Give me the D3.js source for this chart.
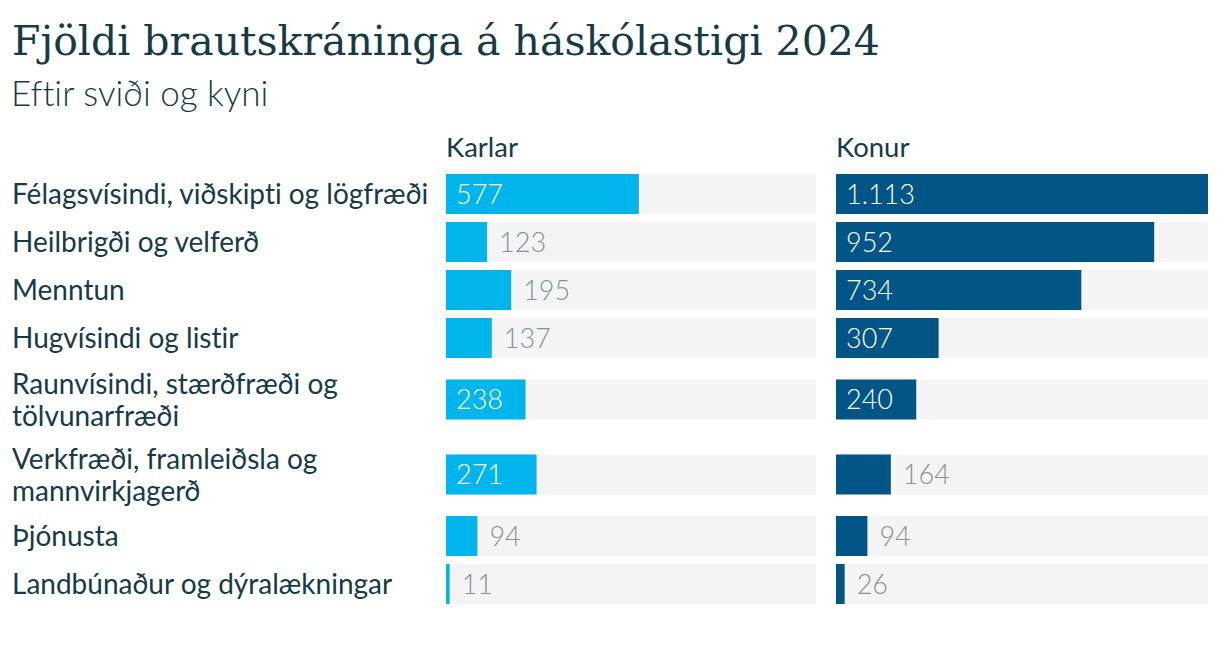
<!DOCTYPE html>
<html>
<head>
<meta charset="utf-8">
<script src="https://cdn.jsdelivr.net/npm/d3@7"></script>
<style>
  body { margin: 0; background: #fff; }
  text { font-family: Lato, sans-serif; font-variant-ligatures: none; }
</style>
</head>
<body>
<div class="chart"></div>
<script>
// Data
var categories = [
    "Félagsvísindi, viðskipti og lögfræði",
    "Heilbrigði og velferð",
    "Menntun",
    "Hugvísindi og listir",
    "Raunvísindi, stærðfræði og tölvunarfræði",
    "Verkfræði, framleiðsla og mannvirkjagerð",
    "Þjónusta",
    "Landbúnaður og dýralækningar"
];
var seriesNames = ["Karlar", "Konur"];
var karlar = [577, 123, 195, 137, 238, 271, 94, 11];
var konur = [1113, 952, 734, 307, 240, 164, 94, 26];

var svgWidth = 1220;
var svgHeight = 656;

var textColor = "#173b44";
var colors = ["#00b4ec", "#005587"];

var svg = d3.select(".chart")
    .append("svg")
    .attr("width", svgWidth)
    .attr("height", svgHeight);

// Title and subtitle
svg.append("text")
    .attr("x", 12)
    .attr("y", 55)
    .style("font-family", "'DejaVu Serif', serif")
    .style("font-size", "41px")
    .attr("fill", textColor)
    .text("Fjöldi brautskráninga á háskólastigi 2024");

svg.append("text")
    .attr("x", 11)
    .attr("y", 106)
    .style("font-size", "35px")
    .style("font-weight", 300)
    .attr("fill", textColor)
    .text("Eftir sviði og kyni");

// Panel layout
var panelX = [446, 836];
var trackWidth = [370, 372];
var panelWidth = 372;
var labelWidth = 426;
var barHeight = 40;
var lineHeight = 32;
var topY = 170;
var fontSize = "28px";

var x = d3.scaleLinear()
    .domain([0, d3.max(konur.concat(karlar))])
    .range([0, panelWidth]);

// Wrap category labels into lines, measured with a hidden text
var measure = svg.append("text")
    .style("font-size", fontSize);

function wrap(str) {
    var words = str.split(" ");
    var lines = [];
    var line = [];
    words.forEach(function(w) {
        line.push(w);
        measure.text(line.join(" "));
        if (measure.node().getComputedTextLength() > labelWidth && line.length > 1) {
            line.pop();
            lines.push(line.join(" "));
            line = [w];
        }
    });
    lines.push(line.join(" "));
    return lines;
}

var rows = categories.map(function(c, i) {
    var lines = wrap(c);
    return { name: c, lines: lines, h: lines.length > 1 ? 75 : 48, values: [karlar[i], konur[i]] };
});
measure.remove();

var y = topY;
rows.forEach(function(r) {
    r.y = y;
    r.mid = y + r.h / 2;
    y += r.h;
});

// Column headers
seriesNames.forEach(function(s, j) {
    svg.append("text")
        .attr("x", panelX[j])
        .attr("y", 157)
        .style("font-size", "27.5px")
        .attr("fill", textColor)
        .text(s);
});

// Category labels
var labels = svg.selectAll(".cat")
    .data(rows)
    .enter()
    .append("text")
    .attr("class", "cat")
    .style("font-size", fontSize)
    .attr("fill", textColor);

labels.selectAll("tspan")
    .data(function(d) {
        return d.lines.map(function(l, k) {
            return { text: l, y: d.mid + (k - (d.lines.length - 1) / 2) * lineHeight };
        });
    })
    .enter()
    .append("tspan")
    .attr("x", 12)
    .attr("y", d => d.y)
    .attr("dy", "0.36em")
    .text(d => d.text);

// Bars for each series
seriesNames.forEach(function(s, j) {
    var g = svg.append("g")
        .attr("transform", `translate(${panelX[j]}, 0)`);

    var row = g.selectAll("g")
        .data(rows)
        .enter()
        .append("g");

    row.append("rect")
        .attr("x", 0)
        .attr("y", d => d.mid - barHeight / 2)
        .attr("width", trackWidth[j])
        .attr("height", barHeight)
        .attr("fill", "#f4f4f4");

    row.append("rect")
        .attr("x", 0)
        .attr("y", d => d.mid - barHeight / 2)
        .attr("width", d => x(d.values[j]))
        .attr("height", barHeight)
        .attr("fill", colors[j]);

    row.append("text")
        .attr("y", d => d.mid)
        .attr("dy", "0.36em")
        .style("font-size", "27px")
        .style("font-weight", 300)
        .text(d => d3.format(",")(d.values[j]).replace(/,/g, "."))
        .each(function(d) {
            var w = this.getComputedTextLength();
            var bw = x(d.values[j]);
            var inside = bw > w + 26;
            d3.select(this)
                .attr("x", inside ? 10 : bw + 12)
                .attr("fill", inside ? "#ffffff" : "#80949a");
        });
});
</script>
</body>
</html>
